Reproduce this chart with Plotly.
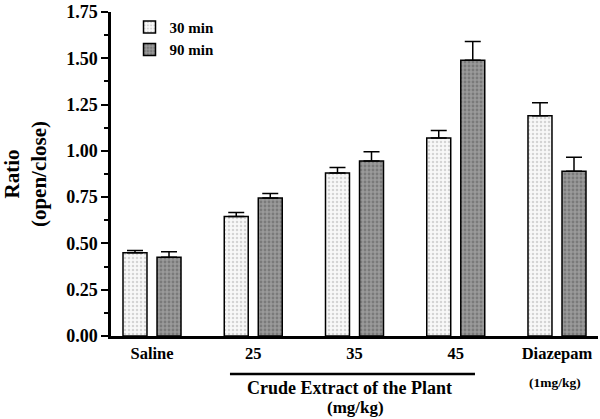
import plotly.graph_objects as go

categories = ["Saline", "25", "35", "45", "Diazepam"]
series_names = ["30 min", "90 min"]
values_30 = [0.45, 0.645, 0.88, 1.07, 1.19]
errors_30 = [0.012, 0.022, 0.03, 0.04, 0.07]
values_90 = [0.425, 0.745, 0.945, 1.49, 0.89]
errors_90 = [0.03, 0.025, 0.05, 0.10, 0.075]
y_ticks = [0.00, 0.25, 0.50, 0.75, 1.00, 1.25, 1.50, 1.75]

FONT = "Liberation Serif"
x = list(range(len(categories)))

fig = go.Figure()
fig.add_trace(go.Bar(
    x=x, y=values_30, name=series_names[0],
    marker=dict(color="#f4f4f4", line=dict(color="black", width=1.5),
                pattern=dict(shape=".", bgcolor="#f8f8f8", fgcolor="#b0b0b0", size=4, solidity=0.3)),
    error_y=dict(type="data", symmetric=False, array=errors_30, arrayminus=[0]*5,
                 color="black", thickness=1.5, width=8),
))
fig.add_trace(go.Bar(
    x=x, y=values_90, name=series_names[1],
    marker=dict(color="#8a8a8a", line=dict(color="black", width=1.5),
                pattern=dict(shape=".", bgcolor="#9a9a9a", fgcolor="#5a5a5a", size=4, solidity=0.4)),
    error_y=dict(type="data", symmetric=False, array=errors_90, arrayminus=[0]*5,
                 color="black", thickness=1.5, width=8),
))

fig.update_layout(
    width=600, height=419,
    margin=dict(l=111, r=2, t=12, b=83),
    paper_bgcolor="white", plot_bgcolor="white",
    barmode="group", bargap=0.328, bargroupgap=0.295,
    font=dict(family=FONT, color="black"),
    showlegend=True,
    legend=dict(x=0.038, y=1.004, xanchor="left", yanchor="top",
                font=dict(family=FONT, size=15, color="black", weight="bold"),
                bgcolor="rgba(0,0,0,0)", tracegroupgap=0),
    xaxis=dict(
        range=[-0.405, 4.405], tickmode="array", tickvals=x,
        ticktext=["<b>%s</b>" % c for c in categories],
        tickfont=dict(family=FONT, size=16.5, color="black"),
        showline=True, linecolor="black", linewidth=2.5,
        ticks="", showgrid=False, zeroline=False, automargin=False,
    ),
    yaxis=dict(
        range=[0, 1.75], tickmode="array", tickvals=y_ticks,
        ticktext=["<b>%.2f</b>" % v for v in y_ticks],
        tickfont=dict(family=FONT, size=18, color="black"),
        showline=True, linecolor="black", linewidth=2.5,
        ticks="outside", ticklen=7, tickwidth=2, tickcolor="black",
        minor=dict(tickmode="array", tickvals=[0.125 + 0.25*i for i in range(7)],
                   ticks="outside", ticklen=4, tickwidth=1.5, tickcolor="black"),
        showgrid=False, zeroline=False, automargin=False,
        title=dict(text="<b>Ratio<br>(open/close)</b>", font=dict(family=FONT, size=21, color="black"),
                   standoff=14),
    ),
)

# group bracket and labels
fig.add_shape(type="line", xref="x", yref="paper", x0=0.77, x1=3.19, y0=-0.117, y1=-0.117,
              line=dict(color="black", width=2.5))
fig.add_annotation(xref="x", yref="paper", x=1.955, y=-0.16, yanchor="middle", showarrow=False,
                   text="<b>Crude Extract of the Plant</b>", font=dict(family=FONT, size=18, color="black"))
fig.add_annotation(xref="x", yref="paper", x=2.005, y=-0.222, yanchor="middle", showarrow=False,
                   text="<b>(mg/kg)</b>", font=dict(family=FONT, size=17, color="black"))
fig.add_annotation(xref="x", yref="paper", x=3.98, y=-0.142, yanchor="middle", showarrow=False,
                   text="<b>(1mg/kg)</b>", font=dict(family=FONT, size=13.5, color="black"))

fig.write_html("out.html", config={"displayModeBar": False},
               post_script="document.body.style.margin='0';document.body.style.overflow='hidden';")
